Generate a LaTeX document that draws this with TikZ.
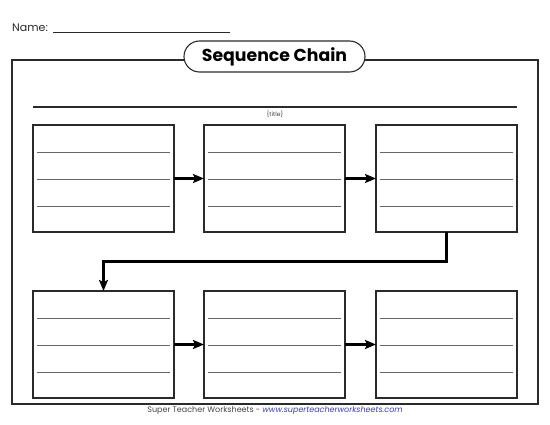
\documentclass[tikz,border=0pt]{standalone}
\usepackage{fontspec}
\setmainfont{Poppins}
\usetikzlibrary{arrows.meta}
\definecolor{boxgray}{HTML}{2A2A2A}
\definecolor{linegray}{HTML}{666666}
\definecolor{urlblue}{HTML}{3B3BB0}
\definecolor{footgray}{HTML}{444444}
\tikzset{
  stepbox/.style={draw=boxgray, line width=1.5pt, rectangle, minimum width=141pt, minimum height=107pt, inner sep=0pt, outer sep=0pt},
  writeline/.style={draw=linegray, line width=0.9pt},
  flow/.style={line width=3pt, -{Stealth[length=11pt,width=9pt,inset=2pt]}},
  frame/.style={draw=boxgray, line width=1.3pt},
}
\begin{document}
\begin{tikzpicture}[x=1pt,y=-1pt]
\useasboundingbox (0,0) rectangle (550,425);
% name
\node[anchor=base west, inner sep=0pt, font=\fontsize{11}{13}\selectfont, text=boxgray] (name) at (12,32) {Name:};
\coordinate (nameA) at (53,32.5);
\coordinate (nameB) at (230,32.5);
\draw[line width=0.9pt, boxgray] (nameA) -- (nameB);
% outer frame
\coordinate (fA) at (12,60);
\coordinate (fB) at (538,404);
\draw[frame] (fA) rectangle (fB);
% title pill
\node[draw=boxgray, line width=1.1pt, fill=white, rounded corners=15.5pt, minimum width=181pt, minimum height=31pt, inner sep=0pt, font=\bfseries\fontsize{17.3}{19}\selectfont] (title) at (274.5,56.5) {Sequence Chain};
% title line
\coordinate (tA) at (33,107);
\coordinate (tB) at (517,107);
\draw[line width=1.3pt, boxgray] (tA) -- (tB);
\node[font=\fontsize{6}{7}\selectfont, text=footgray, inner sep=0pt] (tlabel) at (275,114) {\{title\}};
% boxes
\node[stepbox] (b1) at (103.5,178.5) {};
\node[stepbox] (b2) at (274.5,178.5) {};
\node[stepbox] (b3) at (446.5,178.5) {};
\node[stepbox] (b4) at (103.5,344.5) {};
\node[stepbox] (b5) at (274.5,344.5) {};
\node[stepbox] (b6) at (446.5,344.5) {};
\foreach \b in {b1,b2,b3,b4,b5,b6}{
  \foreach \d in {27,54,81}{
    \draw[writeline] ([xshift=4pt,yshift=-\d pt]\b.north west) -- ([xshift=-4pt,yshift=-\d pt]\b.north east);
  }
}
% arrows
\draw[flow] (b1.east) -- (b2.west);
\draw[flow] (b2.east) -- (b3.west);
\draw[flow] (b4.east) -- (b5.west);
\draw[flow] (b5.east) -- (b6.west);
\coordinate (turnA) at (446.5,261.5);
\coordinate (turnB) at (103.5,261.5);
\draw[flow, line join=miter] (b3.south) -- (turnA) -- (turnB) -- (b4.north);
% footer
\node[font=\fontsize{8}{10}\selectfont, inner sep=0pt] (foot) at (275,411) {\textcolor{footgray}{Super Teacher Worksheets -} \textcolor{urlblue}{\itshape www.superteacherworksheets.com}};
\end{tikzpicture}
\end{document}
